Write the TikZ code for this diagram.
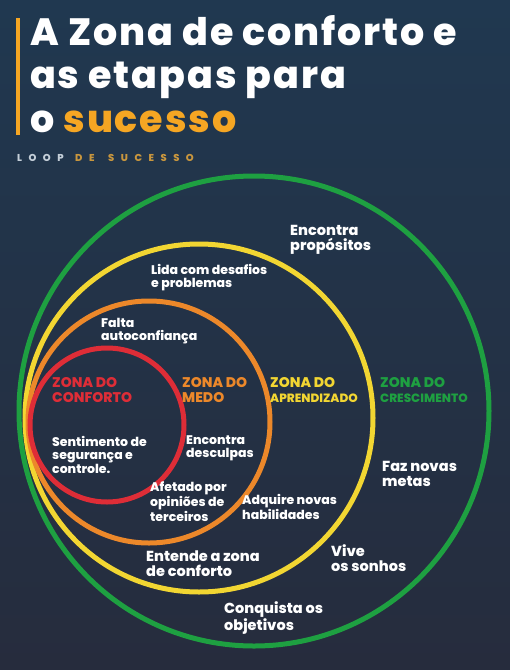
\documentclass[tikz,border=0pt]{standalone}
\usepackage{fontspec}
\setmainfont{Poppins}[BoldFont={Poppins ExtraBold}]

\definecolor{bgtop}{RGB}{32,56,80}
\definecolor{bgbot}{RGB}{38,44,61}
\definecolor{zgreen}{RGB}{30,160,65}
\definecolor{zyellow}{RGB}{242,214,50}
\definecolor{zorange}{RGB}{236,136,42}
\definecolor{zred}{RGB}{222,45,55}
\definecolor{gold}{RGB}{245,166,35}
\definecolor{dimgold}{RGB}{200,150,62}
\definecolor{loopgray}{RGB}{196,206,216}

\tikzset{
  zone/.style={circle,line width=5pt,inner sep=0pt},
  txt/.style={text=white,font=\bfseries\fontsize{12.5}{12.5}\selectfont,align=left,anchor=base west,inner sep=0pt},
  bigtxt/.style={txt,font=\bfseries\fontsize{14.5}{14.5}\selectfont},
  zlabel/.style={font=\bfseries\fontsize{14}{15}\selectfont,align=left,anchor=base west,inner sep=0pt},
  spaced/.style={font=\bfseries\fontsize{10}{12}\selectfont\addfontfeatures{LetterSpace=65},anchor=base west,inner sep=0pt}
}

\begin{document}
\begin{tikzpicture}[x=1pt,y=-1pt]
\shade[top color=bgtop,bottom color=bgbot] (0,0) rectangle (510,670);
\useasboundingbox (0,0) rectangle (510,670);

% title
\fill[gold] (16,18) rectangle (20,135);
\node[text=white,font=\bfseries\fontsize{38}{43.5}\selectfont\addfontfeatures{LetterSpace=5},align=left,anchor=base west,inner sep=0pt] (title) at (30,132)
  {A Zona de conforto e\\as etapas para\\o {\color{gold}sucesso}};
\node[spaced,text=loopgray] (loop) at (17,161) {LOOP};
\node[spaced,text=dimgold] (de) at (75,161) {DE};
\node[spaced,text=dimgold] (sucesso) at (108,161) {SUCESSO};

% circles
\begin{scope}[every node/.style={zone}]
  \node[draw=zgreen,minimum size=470pt] (crescimento) at (254,411) {};
  \node[draw=zyellow,minimum size=348pt] (aprendizado) at (199,418) {};
  \node[draw=zorange,minimum size=242pt] (medo) at (149,422) {};
  \node[draw=zred,minimum size=154pt] (conforto) at (107,425) {};
\end{scope}

% zone names
\node[zlabel,text=zred] (zconforto) at (52,402) {ZONA DO\\CONFORTO};
\node[zlabel,text=zorange] (zmedo) at (182,402) {ZONA DO\\MEDO};
\node[zlabel,text=zyellow] (zaprendizado) at (270,402) {ZONA DO\\{\fontsize{12}{15}\selectfont APRENDIZADO}};
\node[zlabel,text=zgreen] (zcrescimento) at (380,402) {ZONA DO\\{\fontsize{12}{15}\selectfont CRESCIMENTO}};

% steps
\node[bigtxt] (propositos) at (290,250) {Encontra\\propósitos};
\node[txt] (desafios) at (151,287) {Lida com desafios\\e problemas};
\node[txt] (autoconfianca) at (101,340) {Falta\\autoconfiança};
\node[txt] (seguranca) at (52,473) {Sentimento de\\segurança e\\controle.};
\node[txt] (desculpas) at (186,457) {Encontra\\desculpas};
\node[bigtxt] (metas) at (382,486) {Faz novas\\metas};
\node[txt] (opinioes) at (150,521) {Afetado por\\opiniões de\\terceiros};
\node[txt] (habilidades) at (242,519) {Adquire novas\\habilidades};
\node[bigtxt] (entende) at (146,576) {Entende a zona\\de conforto};
\node[bigtxt] (sonhos) at (331,571) {Vive\\os sonhos};
\node[bigtxt] (objetivos) at (224,630) {Conquista os\\objetivos};
\end{tikzpicture}
\end{document}
